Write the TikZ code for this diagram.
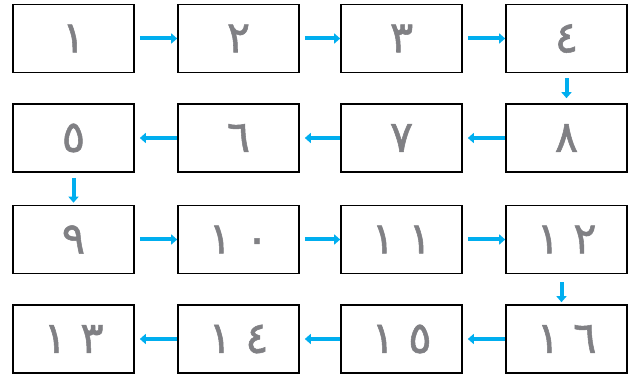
\documentclass[tikz,border=0pt]{standalone}
\usepackage{fontspec}
\usepackage{xcolor}
\usepackage{tikz}
\usetikzlibrary{arrows.meta,positioning}
\newfontfamily\arabicfont[Script=Arabic, FakeBold=1.2]{DejaVu Sans}
\definecolor{flowblue}{RGB}{0,174,239}
\definecolor{digitgray}{RGB}{128,128,132}
\tikzset{
  digit-box/.style={draw=black, fill=white, line width=1.6pt, minimum width=121pt, minimum height=68pt,
    inner sep=0pt, font=\arabicfont\fontsize{44}{44}\selectfont, text=digitgray},
  flow-arrow/.style={draw=flowblue, line width=4pt, -{Triangle[length=6pt, width=10pt]}}
}
\newcommand{\gap}{\hspace{0.3em}}

\begin{document}
\begin{tikzpicture}[x=1pt, y=-1pt]
  \useasboundingbox (0,0) rectangle (634,379);
  % Row 1, left to right
  \node[digit-box] (b1) at (73.5,38.5) {١};
  \node[digit-box] (b2) at (238.5,38.5) {٢};
  \node[digit-box] (b3) at (401.5,38.5) {٣};
  \node[digit-box] (b4) at (566.5,38.5) {٤};

  % Row 2, right to left
  \node[digit-box] (b5) at (73.5,138) {٥};
  \node[digit-box] (b6) at (238.5,138) {٦};
  \node[digit-box] (b7) at (401.5,138) {٧};
  \node[digit-box] (b8) at (566.5,138) {٨};

  % Row 3, left to right
  \node[digit-box] (b9) at (73.5,239.5) {٩};
  \node[digit-box] (b10) at (238.5,239.5) {١\gap٠};
  \node[digit-box] (b11) at (401.5,239.5) {١\gap١};
  \node[digit-box] (b12) at (566.5,239.5) {١\gap٢};

  % Row 4, right to left
  \node[digit-box] (b13) at (73.5,339) {١\gap٣};
  \node[digit-box] (b14) at (238.5,339) {١\gap٤};
  \node[digit-box] (b15) at (401.5,339) {١\gap٥};
  \node[digit-box] (b16) at (566.5,339) {١\gap٦};

  % Snake of arrows
  \draw[flow-arrow, shorten <=5pt] (b1.east) -- (b2.west);
  \draw[flow-arrow, shorten <=5pt] (b2.east) -- (b3.west);
  \draw[flow-arrow, shorten <=5pt] (b3.east) -- (b4.west);
  \draw[flow-arrow, shorten <=5pt, shorten >=5pt] (b4.south) -- (b8.north);
  \draw[flow-arrow, shorten >=5pt] (b8.west) -- (b7.east);
  \draw[flow-arrow, shorten >=5pt] (b7.west) -- (b6.east);
  \draw[flow-arrow, shorten >=5pt] (b6.west) -- (b5.east);
  \draw[flow-arrow, shorten <=5pt, shorten >=2pt] (b5.south) -- (b9.north);
  \draw[flow-arrow, shorten <=5pt] (b9.east) -- (b10.west);
  \draw[flow-arrow, shorten <=5pt] (b10.east) -- (b11.west);
  \draw[flow-arrow, shorten <=5pt] (b11.east) -- (b12.west);
  \draw[flow-arrow, shorten <=8pt, shorten >=2pt] ([xshift=-5pt]b12.south) -- ([xshift=-5pt]b16.north);
  \draw[flow-arrow, shorten >=5pt] (b16.west) -- (b15.east);
  \draw[flow-arrow, shorten >=5pt] (b15.west) -- (b14.east);
  \draw[flow-arrow, shorten >=5pt] (b14.west) -- (b13.east);
\end{tikzpicture}
\end{document}
